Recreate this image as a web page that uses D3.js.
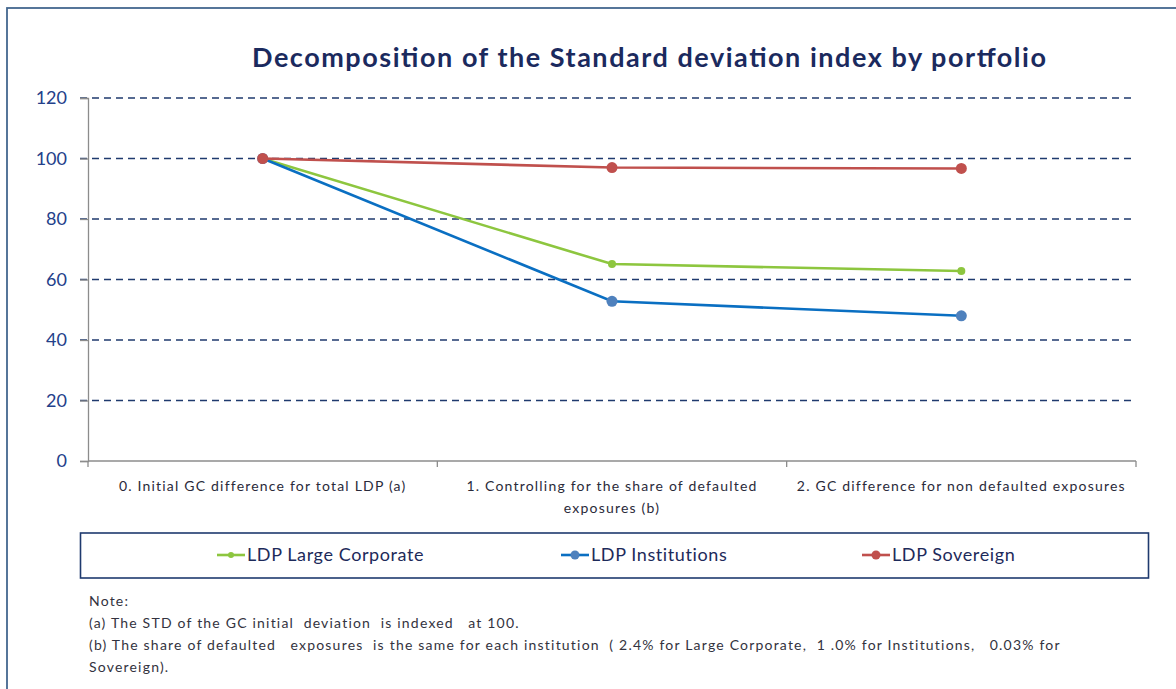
<!DOCTYPE html>
<html>
<head>
<meta charset="utf-8">
<script src="https://d3js.org/d3.v7.min.js"></script>
<style>
  body { margin: 0; background: #fff; }
  svg { display: block; }
  text { font-family: Lato, "Open Sans", sans-serif; }
</style>
</head>
<body>
<div id="vis"></div>
<script>

// data
var categories = [
  ["0. Initial GC difference for total LDP (a)"],
  ["1. Controlling for the share of defaulted", "exposures (b)"],
  ["2. GC difference for non defaulted exposures"]
];
var seriesNames = ["LDP Large Corporate", "LDP Institutions", "LDP Sovereign"];
var largeCorporate = [100, 65.1, 62.8];
var institutions = [100, 52.8, 48.0];
var sovereign = [100, 97.0, 96.7];
var yTicks = [0, 20, 40, 60, 80, 100, 120];
var notes = [
  "Note:",
  "(a) The STD of the GC initial  deviation  is indexed   at 100.",
  "(b) The share of defaulted   exposures  is the same for each institution  ( 2.4% for Large Corporate,  1 .0% for Institutions,   0.03% for",
  "Sovereign)."
];

var W = 1176, H = 689;
var margin = {left: 88, right: 40, top: 98, bottom: 228};

var svg = d3.select("#vis").append("svg")
  .attr("width", W)
  .attr("height", H);

// outer frame
svg.append("rect")
  .attr("x", 7).attr("y", 8)
  .attr("width", 1250).attr("height", 750)
  .attr("fill", "none")
  .attr("stroke", "#44678f")
  .attr("stroke-width", 1.8);

svg.append("text")
  .attr("x", 649).attr("y", 67)
  .attr("text-anchor", "middle")
  .attr("font-size", 27)
  .attr("font-weight", "bold")
  .attr("fill", "#1b2a5e")
  .attr("textLength", 794)
  .attr("lengthAdjust", "spacing")
  .text("Decomposition of the Standard deviation index by portfolio");

var x = d3.scaleBand()
  .domain(d3.range(categories.length))
  .range([margin.left, W - margin.right]);

var y = d3.scaleLinear()
  .domain([0, 120])
  .range([H - margin.bottom, margin.top]);

// dashed gridlines
svg.append("g")
  .selectAll("line")
  .data(yTicks.filter(function(d){ return d > 0; }))
  .join("line")
  .attr("x1", margin.left - 8)
  .attr("x2", W - margin.right)
  .attr("y1", function(d){ return y(d); })
  .attr("y2", function(d){ return y(d); })
  .attr("stroke", "#1f3a6e")
  .attr("stroke-width", 1.3)
  .attr("stroke-dasharray", "7,5");

// y axis
var yAxis = svg.append("g")
  .attr("transform", "translate(" + margin.left + ",0)")
  .call(d3.axisLeft(y).tickValues(yTicks).tickSize(8).tickPadding(13));
yAxis.select(".domain").attr("stroke", "#8c8c8c").attr("stroke-width", 1.3);
yAxis.selectAll(".tick line").attr("stroke", "#8c8c8c").attr("stroke-width", 1.3);
yAxis.selectAll(".tick text")
  .attr("font-family", "Lato, 'Open Sans', sans-serif")
  .attr("font-size", 18)
  .attr("fill", "#23408a");

// x axis
var xAxis = svg.append("g")
  .attr("transform", "translate(0," + y(0) + ")");
xAxis.append("line")
  .attr("x1", margin.left).attr("x2", W - margin.right)
  .attr("stroke", "#8c8c8c").attr("stroke-width", 1.3);
xAxis.selectAll("line.tk")
  .data(d3.range(categories.length + 1))
  .join("line")
  .attr("class", "tk")
  .attr("x1", function(d){ return margin.left + d * x.bandwidth(); })
  .attr("x2", function(d){ return margin.left + d * x.bandwidth(); })
  .attr("y1", 0).attr("y2", 6)
  .attr("stroke", "#8c8c8c").attr("stroke-width", 1.3);
xAxis.selectAll("text.cat")
  .data(categories)
  .join("text")
  .attr("class", "cat")
  .attr("text-anchor", "middle")
  .attr("font-size", 14)
  .attr("letter-spacing", 1.2)
  .attr("fill", "#2a2a3a")
  .attr("x", function(d, i){ return x(i) + x.bandwidth() / 2; })
  .attr("y", 30)
  .selectAll("tspan")
  .data(function(d){ return d; })
  .join("tspan")
  .attr("x", function(){ var p = this.parentNode; return p.getAttribute("x"); })
  .attr("dy", function(d, i){ return i === 0 ? 0 : 22; })
  .text(function(d){ return d; });

var series = [
  {name: seriesNames[0], values: largeCorporate, line: "#8dc63f", dot: "#8dc63f", r: 4},
  {name: seriesNames[1], values: institutions, line: "#0a6fc2", dot: "#4f81bd", r: 5.5},
  {name: seriesNames[2], values: sovereign, line: "#c0504d", dot: "#c0504d", r: 5.5}
];

var line = d3.line()
  .x(function(d, i){ return x(i) + x.bandwidth() / 2; })
  .y(function(d){ return y(d); });

var sg = svg.append("g").selectAll("g")
  .data(series)
  .join("g");

sg.append("path")
  .attr("d", function(s){ return line(s.values); })
  .attr("fill", "none")
  .attr("stroke", function(s){ return s.line; })
  .attr("stroke-width", 2.6);

sg.selectAll("circle")
  .data(function(s){ return s.values.map(function(v){ return {v: v, s: s}; }); })
  .join("circle")
  .attr("cx", function(d, i){ return x(i) + x.bandwidth() / 2; })
  .attr("cy", function(d){ return y(d.v); })
  .attr("r", function(d){ return d.s.r; })
  .attr("fill", function(d){ return d.s.dot; });

// legend
var legend = svg.append("g");
legend.append("rect")
  .attr("x", 80.5).attr("y", 533)
  .attr("width", 1068).attr("height", 45)
  .attr("fill", "none")
  .attr("stroke", "#1f3a6e")
  .attr("stroke-width", 1.6);

var legendX = [217, 561, 862];
var li = legend.selectAll("g.item")
  .data(series)
  .join("g")
  .attr("class", "item")
  .attr("transform", function(d, i){ return "translate(" + legendX[i] + ",555)"; });
li.append("line")
  .attr("x1", 0).attr("x2", 28)
  .attr("stroke", function(d){ return d.line; })
  .attr("stroke-width", 2.6);
li.append("circle")
  .attr("cx", 14)
  .attr("r", function(d){ return d.r - 1; })
  .attr("fill", function(d){ return d.dot; });
li.append("text")
  .attr("x", 30)
  .attr("dy", "0.35em")
  .attr("font-size", 18)
  .attr("letter-spacing", 0.6)
  .attr("fill", "#1d2a5a")
  .text(function(d){ return d.name; });

// notes
svg.append("g")
  .selectAll("text")
  .data(notes)
  .join("text")
  .attr("x", 89)
  .attr("y", function(d, i){ return 606 + i * 22; })
  .attr("font-size", 14)
  .attr("letter-spacing", 1.2)
  .attr("fill", "#333340")
  .attr("xml:space", "preserve")
  .style("white-space", "pre")
  .text(function(d){ return d; });

</script>
</body>
</html>
